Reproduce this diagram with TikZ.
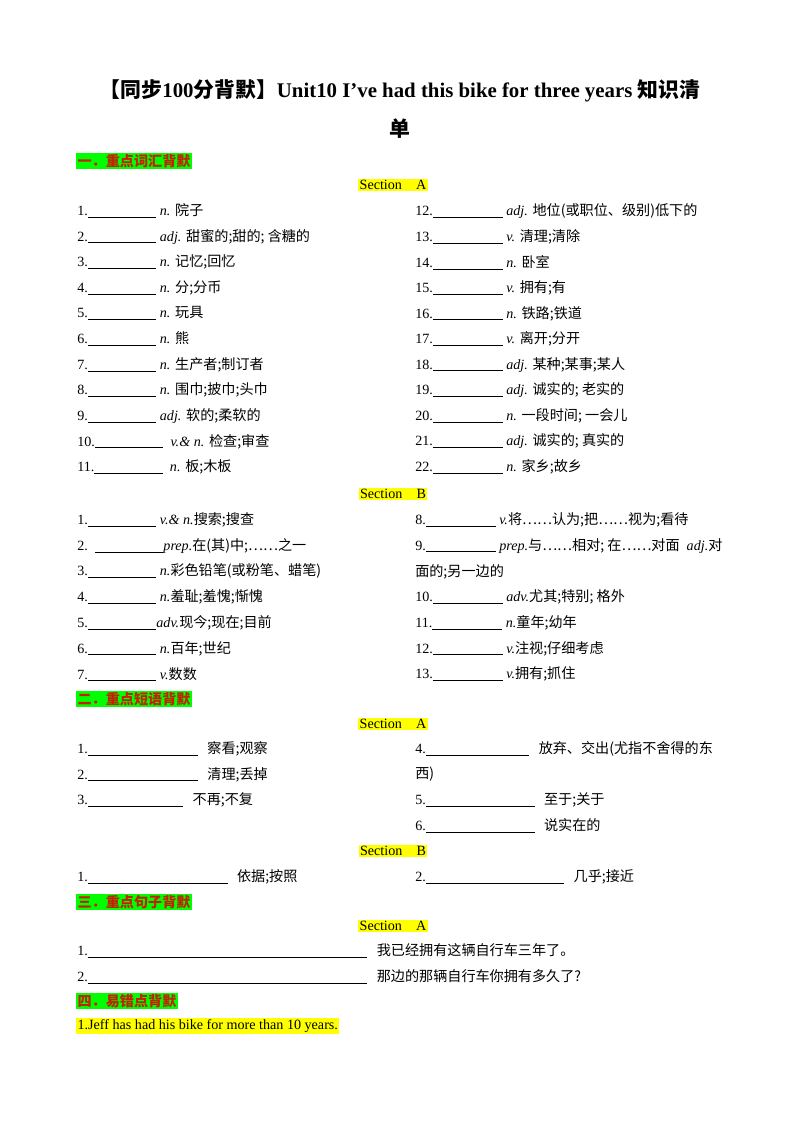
\documentclass[tikz,border=0pt]{standalone}
\usepackage{fontspec}
\setmainfont{Liberation Serif}
\newfontfamily\cjk{Noto Sans CJK SC}
\newcommand\zh[1]{{\cjk #1}}
\newcommand\bl[1]{\rule[-1.5pt]{#1pt}{0.5pt}}
\newcommand\gp{\hspace{7pt}}
\definecolor{hlg}{RGB}{0,255,0}
\definecolor{hly}{RGB}{255,255,0}
\definecolor{hlr}{RGB}{200,30,0}
\begin{document}
\begin{tikzpicture}[x=0.744pt,y=-0.744pt,
  t/.style={anchor=west,inner sep=0pt,font=\fontsize{10.5}{12}\selectfont},
  sec/.style={anchor=west,inner sep=1pt,fill=hlg,text=hlr,font=\fontsize{10.5}{12}\selectfont\bfseries},
  sub/.style={inner sep=1pt,fill=hly,font=\fontsize{10.5}{12}\selectfont}]
\useasboundingbox (0,0) rectangle (800,1132);
\node[font=\fontsize{15.5}{18}\selectfont\bfseries] (title) at (400,91) {\zh{【同步}100\zh{分背默】}Unit10 I've had this bike for three years \zh{知识清}};
\node[font=\fontsize{15.5}{18}\selectfont\bfseries] (title2) at (400,129) {\zh{单}};
\node[sec] (s1) at (76,161) {\zh{一．重点词汇背默}};
\node[sub] (a1) at (393,185) {Section\quad A};
% left column
\node[t] (l1) at (77,211) {1.\bl{51} \textit{n.} \zh{院子}};
\node[t] (l2) at (77,236.6) {2.\bl{51} \textit{adj.} \zh{甜蜜的;甜的; 含糖的}};
\node[t] (l3) at (77,262.2) {3.\bl{51} \textit{n.} \zh{记忆;回忆}};
\node[t] (l4) at (77,287.8) {4.\bl{51} \textit{n.} \zh{分;分币}};
\node[t] (l5) at (77,313.4) {5.\bl{51} \textit{n.} \zh{玩具}};
\node[t] (l6) at (77,339) {6.\bl{51} \textit{n.} \zh{熊}};
\node[t] (l7) at (77,364.6) {7.\bl{51} \textit{n.} \zh{生产者;制订者}};
\node[t] (l8) at (77,390.2) {8.\bl{51} \textit{n.} \zh{围巾;披巾;头巾}};
\node[t] (l9) at (77,415.8) {9.\bl{51} \textit{adj.} \zh{软的;柔软的}};
\node[t] (l10) at (77,441.4) {10.\bl{51}\ \ \textit{v.\& n.} \zh{检查;审查}};
\node[t] (l11) at (77,467) {11.\bl{51}\ \ \textit{n.} \zh{板;木板}};
% right column
\node[t] (r12) at (415,211) {12.\bl{52} \textit{adj.} \zh{地位(或职位、级别)低下的}};
\node[t] (r13) at (415,236.6) {13.\bl{52} \textit{v.} \zh{清理;清除}};
\node[t] (r14) at (415,262.2) {14.\bl{52} \textit{n.} \zh{卧室}};
\node[t] (r15) at (415,287.8) {15.\bl{52} \textit{v.} \zh{拥有;有}};
\node[t] (r16) at (415,313.4) {16.\bl{52} \textit{n.} \zh{铁路;铁道}};
\node[t] (r17) at (415,339) {17.\bl{52} \textit{v.} \zh{离开;分开}};
\node[t] (r18) at (415,364.6) {18.\bl{52} \textit{adj.} \zh{某种;某事;某人}};
\node[t] (r19) at (415,390.2) {19.\bl{52} \textit{adj.} \zh{诚实的; 老实的}};
\node[t] (r20) at (415,415.8) {20.\bl{52} \textit{n.} \zh{一段时间; 一会儿}};
\node[t] (r21) at (415,441.4) {21.\bl{52} \textit{adj.} \zh{诚实的; 真实的}};
\node[t] (r22) at (415,467) {22.\bl{52} \textit{n.} \zh{家乡;故乡}};
\node[sub] (b1) at (393,494) {Section\quad B};
\node[t] (bl1) at (77,520) {1.\bl{51} \textit{v.\& n.}\zh{搜索;搜查}};
\node[t] (bl2) at (77,545.7) {2.\ \ \bl{51}\textit{prep.}\zh{在(其)中;……之一}};
\node[t] (bl3) at (77,571.4) {3.\bl{51} \textit{n.}\zh{彩色铅笔(或粉笔、蜡笔)}};
\node[t] (bl4) at (77,597.1) {4.\bl{51} \textit{n.}\zh{羞耻;羞愧;惭愧}};
\node[t] (bl5) at (77,622.8) {5.\bl{51}\textit{adv.}\zh{现今;现在;目前}};
\node[t] (bl6) at (77,648.5) {6.\bl{51} \textit{n.}\zh{百年;世纪}};
\node[t] (bl7) at (77,674.2) {7.\bl{51} \textit{v.}\zh{数数}};
\node[t] (br8) at (415,520) {8.\bl{52} \textit{v.}\zh{将……认为;把……视为;看待}};
\node[t] (br9) at (415,545.7) {9.\bl{52} \textit{prep.}\zh{与……相对; 在……对面}\ \ \textit{adj.}\zh{对}};
\node[t] (br9b) at (415,571.4) {\zh{面的;另一边的}};
\node[t] (br10) at (415,597.1) {10.\bl{52} \textit{adv.}\zh{尤其;特别; 格外}};
\node[t] (br11) at (415,622.8) {11.\bl{52} \textit{n.}\zh{童年;幼年}};
\node[t] (br12) at (415,648.5) {12.\bl{52} \textit{v.}\zh{注视;仔细考虑}};
\node[t] (br13) at (415,674.2) {13.\bl{52} \textit{v.}\zh{拥有;抓住}};
% phrases
\node[sec] (s2) at (76,699) {\zh{二．重点短语背默}};
\node[sub] (a2) at (393,724) {Section\quad A};
\node[t] (p1) at (77,749) {1.\bl{82}\gp\zh{察看;观察}};
\node[t] (p2) at (77,774.5) {2.\bl{82}\gp\zh{清理;丢掉}};
\node[t] (p3) at (77,800) {3.\bl{71}\gp\zh{不再;不复}};
\node[t] (p4) at (415,749) {4.\bl{77}\gp\zh{放弃、交出(尤指不舍得的东}};
\node[t] (p4b) at (415,774.5) {\zh{西)}};
\node[t] (p5) at (415,800) {5.\bl{81}\gp\zh{至于;关于}};
\node[t] (p6) at (415,825.5) {6.\bl{81}\gp\zh{说实在的}};
\node[sub] (b2) at (393,851) {Section\quad B};
\node[t] (pb1) at (77,877) {1.\bl{104}\gp\zh{依据;按照}};
\node[t] (pb2) at (415,877) {2.\bl{103}\gp\zh{几乎;接近}};
% sentences
\node[sec] (s3) at (76,902) {\zh{三．重点句子背默}};
\node[sub] (a3) at (393,926) {Section\quad A};
\node[t] (q1) at (77,951) {1.\bl{208}\gp\zh{我已经拥有这辆自行车三年了。}};
\node[t] (q2) at (77,977) {2.\bl{208}\gp\zh{那边的那辆自行车你拥有多久了?}};
\node[sec] (s4) at (76,1001) {\zh{四．易错点背默}};
\node[t,fill=hly,inner sep=1pt] (e1) at (76,1026) {1.Jeff has had his bike for more than 10 years.};
\end{tikzpicture}
\end{document}
